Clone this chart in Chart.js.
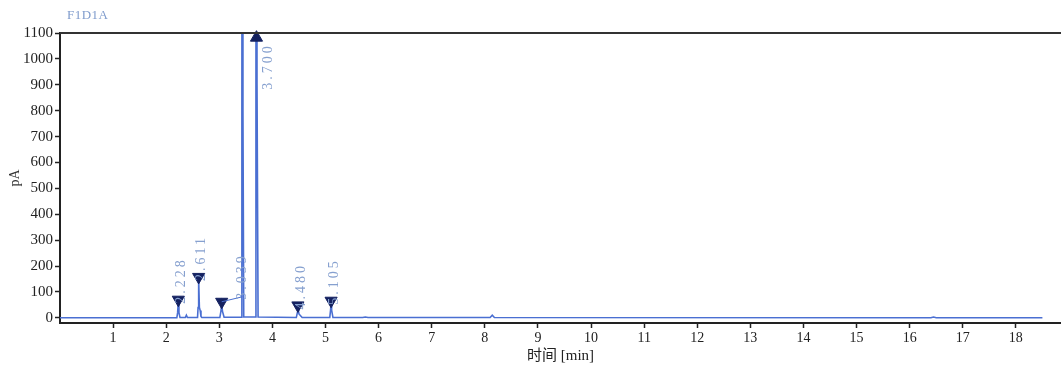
<!DOCTYPE html>
<html lang="zh">
<head>
  <meta charset="UTF-8" />
  <title>F1D1A</title>
  <script src="https://cdn.jsdelivr.net/npm/chart.js"></script>
  <style>
    html, body { margin: 0; padding: 0; background: #fff; overflow: hidden; }
    #wrap { position: relative; width: 1061px; height: 370px; overflow: hidden; }
    canvas { display: block; }
  </style>
</head>
<body>
  <div id="wrap"><canvas id="chrom"></canvas></div>

  <script>
    // signal trace, time [min] vs pA
    const times = [0, 2.0, 2.20, 2.215, 2.228, 2.24, 2.26, 2.36, 2.38, 2.40,
      2.59, 2.60, 2.611, 2.625, 2.64, 2.655, 2.67, 3.01, 3.03, 3.045, 3.06, 3.09,
      3.41, 3.425, 3.435, 3.445, 3.46, 3.68, 3.69, 3.70, 3.71, 3.73,
      4.45, 4.47, 4.48, 4.50, 4.53, 4.56, 5.08, 5.095, 5.105, 5.115, 5.14,
      5.70, 5.75, 5.80, 8.10, 8.14, 8.18, 16.40, 16.45, 16.50, 18.5];
    const signal = [0, 0, 0, 20, 62, 20, 1, 1, 10, 1,
      1, 40, 152, 40, 28, 5, 1, 1, 25, 52, 25, 2,
      2, 800, 5000, 800, 3, 3, 900, 5000, 900, 3,
      1, 20, 38, 15, 8, 1, 1, 30, 57, 30, 1,
      1, 3, 1, 1, 10, 1, 0, 3, 0, 0];

    // integrated peaks
    const peakLabels = ["2.228", "2.611", "3.039", "3.700", "4.480", "5.105"];
    const peakTimes = [2.228, 2.611, 3.045, 3.700, 4.480, 5.105];
    const markerValues = [70, 158, 62, 1082, 48, 66];
    const markerUp = [false, false, false, true, false, false];

    const yTicks = [0, 100, 200, 300, 400, 500, 600, 700, 800, 900, 1000, 1100];
    const xTicks = [1, 2, 3, 4, 5, 6, 7, 8, 9, 10, 11, 12, 13, 14, 15, 16, 17, 18];

    const serif = "'Liberation Serif', 'Noto Sans CJK SC', serif";

    const frame = {
      id: "frame",
      afterDraw(chart) {
        const { ctx, chartArea } = chart;
        ctx.save();
        ctx.strokeStyle = "#333";
        ctx.lineWidth = 2;
        ctx.beginPath();
        ctx.moveTo(chartArea.left, chartArea.top);
        ctx.lineTo(chartArea.right, chartArea.top);
        ctx.stroke();
        ctx.fillStyle = "#7f9bcc";
        ctx.font = "13px " + serif;
        ctx.textBaseline = "middle";
        ctx.letterSpacing = "0.5px";
        ctx.fillText("F1D1A", chartArea.left + 7, 16);
        ctx.restore();
      }
    };

    const peakText = {
      id: "peakText",
      afterDatasetsDraw(chart) {
        const { ctx, scales } = chart;
        ctx.save();
        ctx.font = "14px " + serif;
        ctx.fillStyle = "#86a0cf";
        ctx.textBaseline = "middle";
        ctx.letterSpacing = "3px";
        peakLabels.forEach((lab, i) => {
          let px = scales.x.getPixelForValue(peakTimes[i]);
          let py = scales.y.getPixelForValue(markerValues[i]);
          if (markerUp[i]) {
            px += 12;
            py += 52;
          } else if (lab === "3.039") {
            // crowded: label moved onto next peak with a leader line
            const lx = scales.x.getPixelForValue(3.435);
            ctx.strokeStyle = "#4a6fcf";
            ctx.lineWidth = 1;
            ctx.beginPath();
            ctx.moveTo(px, py);
            ctx.lineTo(lx, py - 5);
            ctx.stroke();
            px = lx;
            py -= 2;
          } else {
            px += 3;
            py += 4;
          }
          ctx.save();
          ctx.translate(px, py);
          ctx.rotate(-Math.PI / 2);
          ctx.fillText(lab, 0, 0);
          ctx.restore();
        });
        ctx.restore();
      }
    };

    new Chart(document.getElementById("chrom"), {
      type: "scatter",
      data: {
        datasets: [
          {
            data: peakTimes.map((t, i) => ({ x: t, y: markerValues[i] })),
            pointStyle: "triangle",
            rotation: markerUp.map(u => (u ? 0 : 180)),
            radius: 7,
            backgroundColor: "#142160",
            borderColor: "#142160",
            borderWidth: 1,
            clip: false
          },
          {
            data: times.map((t, i) => ({ x: t, y: signal[i] })),
            showLine: true,
            borderColor: "#4a6fd2",
            borderWidth: 1.6,
            pointRadius: 0,
            tension: 0
          }
        ]
      },
      options: {
        responsive: true,
        maintainAspectRatio: false,
        animation: false,
        layout: { autoPadding: false, padding: { top: 33, left: 0, right: 0, bottom: 0 } },
        plugins: { legend: { display: false }, tooltip: { enabled: false } },
        scales: {
          x: {
            type: "linear",
            min: 0,
            max: 18.85,
            afterBuildTicks: s => { s.ticks = xTicks.map(v => ({ value: v })); },
            afterFit: s => { s.height = 47; s.paddingRight = 0; s.paddingLeft = 0; },
            ticks: { color: "#222", font: { family: serif, size: 14 }, padding: 2 },
            grid: { drawOnChartArea: false, tickLength: 5, color: "#222", tickWidth: 1.5 },
            border: { color: "#222", width: 2 },
            title: {
              display: true,
              text: "时间 [min]",
              color: "#222",
              font: { family: serif, size: 15 },
              padding: { top: 0, bottom: 5 }
            }
          },
          y: {
            min: -20,
            max: 1100,
            afterBuildTicks: s => { s.ticks = yTicks.map(v => ({ value: v })); },
            afterFit: s => { s.width = 60; },
            ticks: {
              color: "#222",
              font: { family: serif, size: 15 },
              padding: 2,
              callback: v => String(v)
            },
            grid: { drawOnChartArea: false, tickLength: 5, color: "#222", tickWidth: 1.5 },
            border: { color: "#222", width: 2 },
            title: {
              display: true,
              text: "pA",
              color: "#333",
              font: { family: serif, size: 14 },
              padding: { top: 7, bottom: 0 }
            }
          }
        }
      },
      plugins: [frame, peakText]
    });
  </script>
</body>
</html>
